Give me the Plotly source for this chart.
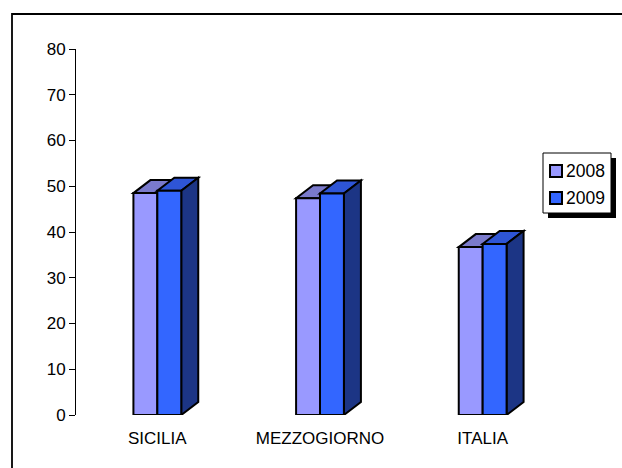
import plotly.graph_objects as go

# Data
categories = ["SICILIA", "MEZZOGIORNO", "ITALIA"]
years = ["2008", "2009"]
values_2008 = [48.5, 47.4, 36.7]
values_2009 = [49.0, 48.4, 37.4]

# Figure geometry (pixels)
W, H = 622, 468
L, R, T, B = 76, 58, 49, 53
plot_w = W - L - R
plot_h = H - T - B
y_max = 80

x_pos = list(range(len(categories)))
bar_w = 0.147               # width of one bar in category units
depth_px = (17, 13)          # 3D depth offset (right, up) in pixels
dx = depth_px[0] / plot_w * len(categories)
dy = depth_px[1] / plot_h * y_max

front_colors = ["#9999FF", "#3366FF"]
top_colors = ["#7A7ACC", "#2E55D6"]
side_colors = ["#52528A", "#1C3585"]
edge = dict(color="black", width=2)
FONT = "Liberation Sans, Arial, sans-serif"

fig = go.Figure()
series = [values_2008, values_2009]
offsets = [-bar_w, 0.0]
for i, (name, vals) in enumerate(zip(years, series)):
    fig.add_trace(go.Bar(
        x=x_pos, y=vals, name=name,
        width=bar_w, offset=offsets[i],
        marker=dict(color=front_colors[i], line=edge),
        showlegend=False,
    ))

# Top and side faces giving the columns depth
shapes = []
for c in x_pos:
    for i, vals in enumerate(series):
        v = vals[c]
        x0 = c + offsets[i]
        x1 = x0 + bar_w
        top = (f"M{x0},{v} L{x1},{v} L{x1 + dx},{v + dy} "
               f"L{x0 + dx},{v + dy} Z")
        side = (f"M{x1},0 L{x1 + dx},{dy} L{x1 + dx},{v + dy} "
                f"L{x1},{v} Z")
        shapes.append(dict(type="path", path=top, xref="x", yref="y",
                           fillcolor=top_colors[i], line=edge, layer="below"))
        shapes.append(dict(type="path", path=side, xref="x", yref="y",
                           fillcolor=side_colors[i], line=edge, layer="below"))


def px_x(p):
    return (p - L) / plot_w


def px_y(p):
    return (H - B - p) / plot_h


# Outer chart frame
shapes.append(dict(type="rect", xref="paper", yref="paper",
                   x0=px_x(12), x1=px_x(660), y0=px_y(500), y1=px_y(14),
                   line=dict(color="black", width=1.8), fillcolor="rgba(0,0,0,0)",
                   layer="above"))

# Legend: shadow, box, colour keys and labels
leg_l, leg_t, leg_r, leg_b = 543, 153, 611, 213
shapes.append(dict(type="rect", xref="paper", yref="paper",
                   x0=px_x(leg_l + 5), x1=px_x(leg_r + 5),
                   y0=px_y(leg_b + 5), y1=px_y(leg_t + 5),
                   line=dict(width=0), fillcolor="black", layer="above"))
shapes.append(dict(type="rect", xref="paper", yref="paper",
                   x0=px_x(leg_l), x1=px_x(leg_r),
                   y0=px_y(leg_b), y1=px_y(leg_t),
                   line=dict(color="black", width=1), fillcolor="white",
                   layer="above"))
annotations = []
key_rows = [171, 198]
for i, name in enumerate(years):
    cy = key_rows[i]
    shapes.append(dict(type="rect", xref="paper", yref="paper",
                       x0=px_x(550), x1=px_x(562),
                       y0=px_y(cy + 6), y1=px_y(cy - 6),
                       line=dict(color="black", width=2),
                       fillcolor=front_colors[i], layer="above"))
    annotations.append(dict(x=px_x(564), y=px_y(cy), xref="paper", yref="paper",
                            text=name, showarrow=False, xanchor="left",
                            yanchor="middle",
                            font=dict(family=FONT, size=17.5, color="black")))

fig.update_layout(
    width=W, height=H,
    margin=dict(l=L, r=R, t=T, b=B),
    paper_bgcolor="white", plot_bgcolor="white",
    font=dict(family=FONT, size=17, color="black"),
    barmode="overlay",
    shapes=shapes,
    annotations=annotations,
    showlegend=False,
    xaxis=dict(
        range=[-0.5, len(categories) - 0.5],
        tickvals=x_pos, ticktext=categories,
        showgrid=False, zeroline=False, showline=False,
        ticks="outside", ticklen=8, tickcolor="rgba(0,0,0,0)",
        tickfont=dict(size=17),
    ),
    yaxis=dict(
        range=[0, y_max], dtick=10,
        showgrid=False, zeroline=False,
        showline=True, linecolor="black", linewidth=1,
        ticks="outside", ticklen=6, tickcolor="black",
        tickfont=dict(size=17),
    ),
)

fig.write_html("out.html")
